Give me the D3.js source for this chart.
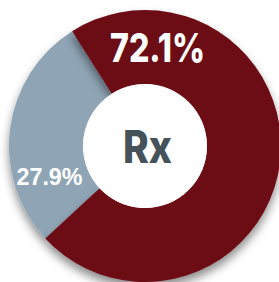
<!DOCTYPE html>
<html>
<head>
<meta charset="utf-8">
<script src="https://cdn.jsdelivr.net/npm/d3@7"></script>
<style>
  html, body { margin: 0; padding: 0; background: #ffffff; overflow: hidden; }
</style>
</head>
<body>
<svg></svg>
<script>
// Chart data
let categories = ['Rx', 'Other'];
let values = [72.1, 27.9];
let labels = ['72.1%', '27.9%'];
let centerLabel = 'Rx';

// SVG dimensions
let width = 279, height = 282;
let cx = 145, cy = 146, outerR = 136, innerR = 62;

let colors = d3.scaleOrdinal()
    .domain(categories)
    .range(['#6c0b15', '#8fa5b5']);

let svg = d3.select('svg')
    .attr('width', width)
    .attr('height', height);

// Drop shadow for the slices
let defs = svg.append('defs');
let shadow = defs.append('filter')
    .attr('id', 'shadow')
    .attr('x', '-30%').attr('y', '-30%')
    .attr('width', '160%').attr('height', '160%');
shadow.append('feDropShadow')
    .attr('dx', 0)
    .attr('dy', 6)
    .attr('stdDeviation', 5)
    .attr('flood-color', '#000')
    .attr('flood-opacity', 0.45);

let pie = d3.pie()
    .sort(null)
    .startAngle(-32.4 * Math.PI / 180)
    .endAngle(327.6 * Math.PI / 180);

let arcs = pie(values);

let arc = d3.arc()
    .innerRadius(innerR)
    .outerRadius(outerR);

let g = svg.append('g')
    .attr('transform', `translate(${cx}, ${cy})`);

// Grey slice first, red slice on top so its shadow falls on the grey
g.selectAll('path')
    .data(arcs.slice().reverse())
    .enter()
    .append('path')
    .attr('d', arc)
    .attr('fill', (d) => { return colors(categories[d.index]) })
    .attr('filter', 'url(#shadow)');

// White hole
g.append('circle')
    .attr('r', innerR)
    .attr('fill', '#ffffff');

g.append('text')
    .attr('x', 2.5)
    .attr('y', 17)
    .attr('text-anchor', 'middle')
    .attr('textLength', 49)
    .attr('lengthAdjust', 'spacingAndGlyphs')
    .style('font-family', "'Inter', 'Liberation Sans', sans-serif")
    .style('font-weight', 800)
    .style('font-size', '45px')
    .attr('fill', '#46525a')
    .text(centerLabel);

// Percentage labels, placed by hand inside each slice
let labelPos = [
    { x: 12.5, y: -84, size: 40, len: 95, font: "'Inter', sans-serif", weight: 800 },
    { x: -95.5, y: 39, size: 24, len: 66, font: "'Liberation Sans', Arial, sans-serif", weight: 700 }
];

g.selectAll('.label')
    .data(arcs)
    .enter()
    .append('text')
    .attr('class', 'label')
    .attr('x', (d) => { return labelPos[d.index].x })
    .attr('y', (d) => { return labelPos[d.index].y })
    .attr('text-anchor', 'middle')
    .attr('textLength', (d) => { return labelPos[d.index].len })
    .attr('lengthAdjust', 'spacingAndGlyphs')
    .style('font-family', (d) => { return labelPos[d.index].font })
    .style('font-weight', (d) => { return labelPos[d.index].weight })
    .style('font-size', (d) => { return labelPos[d.index].size + 'px' })
    .attr('fill', '#ffffff')
    .text((d) => { return labels[d.index] });
</script>
</body>
</html>
